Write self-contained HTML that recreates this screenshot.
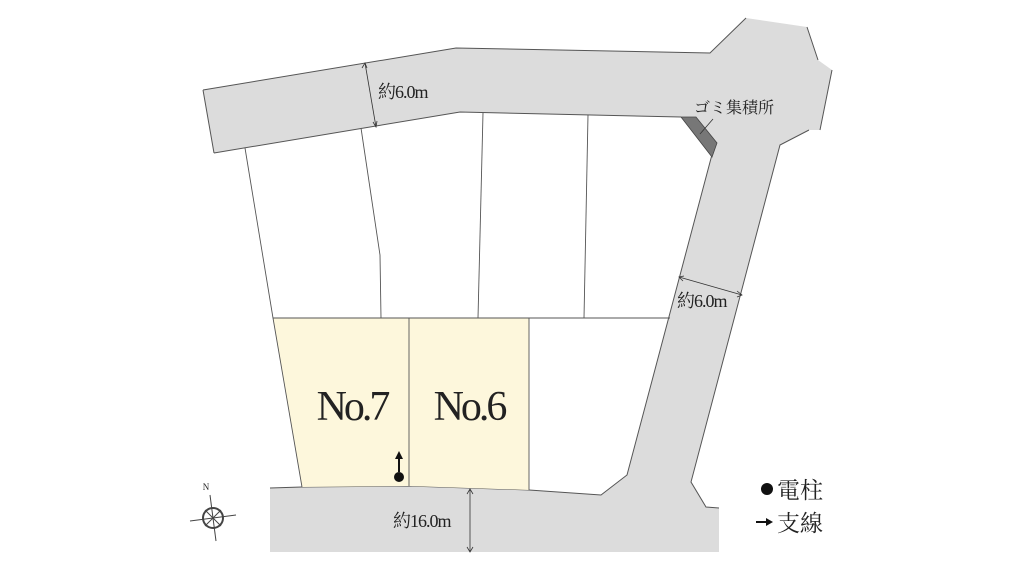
<!DOCTYPE html>
<html><head><meta charset="utf-8"><style>
html,body{margin:0;padding:0;background:#fff;}
svg{display:block;}
text{font-family:"Liberation Serif","Noto Serif CJK SC",serif;fill:#222;}
</style></head><body>
<svg width="1024" height="576" viewBox="0 0 1024 576" xmlns="http://www.w3.org/2000/svg">
<path d="M203,90 L456,48 L710,53 L746,18 L807,27 L818,60 L832,70 L820,130 L809,130 L780,145 L691,482 L706,507 L719,508 L719,552 L270,552 L270,488 L302,487 L409,486 L529,490 L601,495 L627,475 L714,147 L681,117 L460,112 L214,153 Z" fill="#dcdcdc" stroke="none"/>
<path d="M203,90 L456,48 L710,53 L746,18 M807,27 L818,60 M832,70 L820,130 M809,130 L780,145 L691,482 L706,507 L719,508 M270,488 L302,487 L409,486 L529,490 L601,495 L627,475 L714,147 M681,117 L460,112 L214,153 M203,90 L214,153" fill="none" stroke="#555" stroke-width="1"/>
<path d="M273,318 L409,318 L409,486 L302,487 Z" fill="#fdf7dc"/>
<path d="M409,318 L529,318 L529,490 L409,486 Z" fill="#fdf7dc"/>
<g stroke="#555" stroke-width="0.9" fill="none">
<path d="M245,148 L273,318 L302,487"/>
<path d="M361,128 L380,255 L381,318"/>
<path d="M483,113 L478,318"/>
<path d="M588,115 L584,318"/>
<path d="M273,318 L670,318"/>
<path d="M409,318 L409,486"/>
<path d="M529,318 L529,490"/>
</g>
<path d="M681,117 L696,117 L717,143 L712,157 Z" fill="#777" stroke="#444" stroke-width="0.8"/>
<line x1="700" y1="134" x2="713" y2="119" stroke="#333" stroke-width="0.8"/>
<text x="694" y="113" font-size="16">ゴミ集積所</text>
<g stroke="#333" stroke-width="0.8" fill="none">
<line x1="365" y1="63" x2="376" y2="127"/>
<path d="M362,68 L365,63 L367,68 M373,122 L376,127 L377,121"/>
<line x1="679" y1="277" x2="742" y2="295"/>
<path d="M684,276 L679,277 L683,281 M737,291 L742,295 L737,297"/>
<line x1="470" y1="489" x2="470" y2="552"/>
<path d="M467,494 L470,489 L473,494 M467,547 L470,552 L473,547"/>
</g>
<text x="378" y="98" font-size="18" letter-spacing="-1">約6.0m</text>
<text x="677" y="307" font-size="18" letter-spacing="-1">約6.0m</text>
<text x="393" y="527" font-size="18" letter-spacing="-1">約16.0m</text>
<text x="352" y="420" font-size="42" text-anchor="middle" letter-spacing="-3">No.7</text>
<text x="469" y="420" font-size="42" text-anchor="middle" letter-spacing="-3">No.6</text>
<circle cx="399" cy="477" r="5" fill="#111"/>
<line x1="399" y1="472" x2="399" y2="456" stroke="#111" stroke-width="2"/>
<path d="M395,459 L399,451 L403,459 Z" fill="#111"/>
<circle cx="767" cy="489" r="6" fill="#111"/>
<text x="777" y="498" font-size="23">電柱</text>
<line x1="756" y1="522" x2="768" y2="522" stroke="#111" stroke-width="2"/>
<path d="M766,518 L773,522 L766,526 Z" fill="#111"/>
<text x="777" y="531" font-size="23">支線</text>
<g stroke="#444" fill="none">
<circle cx="213" cy="518" r="10" stroke-width="2"/>
<line x1="210" y1="495" x2="216" y2="541" stroke-width="1"/>
<line x1="190" y1="521" x2="236" y2="515" stroke-width="1"/>
<line x1="205" y1="510" x2="221" y2="526" stroke-width="1"/>
<line x1="221" y1="510" x2="205" y2="526" stroke-width="1"/>
</g>
<text x="206" y="490" font-size="9" text-anchor="middle">N</text>
</svg>
</body></html>
